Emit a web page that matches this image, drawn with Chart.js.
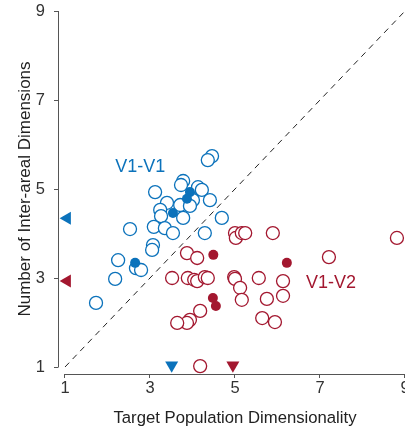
<!DOCTYPE html>
<html>
<head>
<meta charset="utf-8">
<script src="https://cdn.jsdelivr.net/npm/chart.js@4"></script>
<style>
  html, body { margin: 0; padding: 0; background: #fff; overflow: hidden; }
</style>
</head>
<body>
<canvas id="dimChart" width="405" height="429"></canvas>
<script>
// tick values
const xTicks = [1, 3, 5, 7, 9];
const yTicks = [1, 3, 5, 7, 9];

// V1-V1 open circles (target dim, inter-areal dim)
const v1v1X = [4.46, 4.36, 3.78, 3.73, 4.13, 4.22, 4.01, 4.41, 3.12, 3.40, 3.71, 3.24, 3.26, 3.78,
               4.69, 2.53, 3.09, 3.35, 3.54, 4.29, 3.07, 3.05, 2.25, 2.67, 2.79, 2.18, 1.73, 3.94];
const v1v1Y = [5.74, 5.65, 5.18, 5.09, 5.04, 4.98, 4.75, 4.75, 4.93, 4.69, 4.64, 4.53, 4.39, 4.35,
               4.35, 4.10, 4.15, 4.12, 4.01, 4.01, 3.74, 3.63, 3.40, 3.22, 3.18, 2.98, 2.44, 4.62];
// V1-V1 filled circles
const v1v1MeanX = [3.94, 3.87, 3.54, 2.65];
const v1v1MeanY = [4.93, 4.78, 4.46, 3.34];

// V1-V2 open circles
const v1v2X = [3.87, 4.11, 3.52, 3.89, 4.04, 4.11, 4.29, 4.36, 5.00, 5.02, 5.16, 5.24, 5.89, 8.81, 7.21,
               4.98, 5.00, 5.12, 5.16, 5.56, 6.13, 6.13, 5.75, 4.18, 3.94, 3.87, 3.64, 5.64, 5.94, 4.18];
const v1v2Y = [3.56, 3.45, 3.00, 3.00, 2.96, 2.93, 3.02, 3.00, 4.01, 3.90, 4.01, 4.01, 4.01, 3.90, 3.47,
               3.02, 2.98, 2.78, 2.51, 3.00, 2.93, 2.60, 2.53, 2.26, 2.06, 1.99, 1.99, 2.10, 2.01, 1.02];
// V1-V2 filled circles
const v1v2MeanX = [4.49, 6.22, 4.48, 4.55];
const v1v2MeanY = [3.52, 3.34, 2.55, 2.37];

// median markers on the axes
const v1v1MedY = 4.34, v1v2MedY = 2.93;
const v1v1MedX = 3.51, v1v2MedX = 4.95;

// group labels
const groupLabels = [
  { text: "V1-V1", x: 2.77, y: 5.49, color: "#0b72bb" },
  { text: "V1-V2", x: 7.26, y: 2.89, color: "#a3172f" }
];

const blue = "#0b72bb";
const red = "#a3172f";
const fontFam = "'Liberation Sans', Arial, sans-serif";

function pts(xs, ys) {
  return xs.map((x, i) => ({ x: x, y: ys[i] }));
}

// axes drawn detached from the plot, like the original figure
const detachedAxes = {
  id: "detachedAxes",
  afterDraw(chart) {
    const ctx = chart.ctx;
    const xs = chart.scales.x, ys = chart.scales.y;
    const axX = chart.chartArea.left - 7;
    const axY = chart.chartArea.bottom + 7;
    ctx.save();
    ctx.strokeStyle = "#555";
    ctx.lineWidth = 1;
    ctx.beginPath();
    ctx.moveTo(axX + 0.5, ys.getPixelForValue(9));
    ctx.lineTo(axX + 0.5, ys.getPixelForValue(1));
    yTicks.forEach(t => {
      const p = Math.round(ys.getPixelForValue(t)) + 0.5;
      ctx.moveTo(axX - 4, p);
      ctx.lineTo(axX + 0.5, p);
    });
    ctx.moveTo(xs.getPixelForValue(1), axY + 0.5);
    ctx.lineTo(xs.getPixelForValue(9), axY + 0.5);
    xTicks.forEach(t => {
      const p = Math.round(xs.getPixelForValue(t)) - 0.5;
      ctx.moveTo(p, axY);
      ctx.lineTo(p, axY + 4);
    });
    ctx.stroke();

    ctx.font = "18px " + fontFam;
    ctx.textAlign = "center";
    ctx.textBaseline = "middle";
    groupLabels.forEach(l => {
      ctx.fillStyle = l.color;
      ctx.fillText(l.text, xs.getPixelForValue(l.x), ys.getPixelForValue(l.y));
    });
    ctx.restore();
  }
};

const ctx = document.getElementById("dimChart").getContext("2d");

new Chart(ctx, {
  type: "scatter",
  data: {
    datasets: [
      {
        label: "diagonal",
        type: "line",
        data: [{ x: 1, y: 1 }, { x: 9, y: 9 }],
        borderColor: "#222",
        borderWidth: 1,
        borderDash: [6, 5],
        pointRadius: 0,
        order: 10
      },
      {
        label: "V1-V1",
        data: pts(v1v1X, v1v1Y),
        pointRadius: 6.5,
        borderWidth: 1.3,
        borderColor: blue,
        backgroundColor: "#fff",
        order: 5
      },
      {
        label: "V1-V2",
        data: pts(v1v2X, v1v2Y),
        pointRadius: 6.5,
        borderWidth: 1.3,
        borderColor: red,
        backgroundColor: "#fff",
        order: 5
      },
      {
        label: "V1-V1 filled",
        data: pts(v1v1MeanX, v1v1MeanY),
        pointRadius: 5,
        borderWidth: 0,
        backgroundColor: blue,
        order: 1
      },
      {
        label: "V1-V2 filled",
        data: pts(v1v2MeanX, v1v2MeanY),
        pointRadius: 5,
        borderWidth: 0,
        backgroundColor: red,
        order: 1
      },
      {
        label: "medians",
        data: [
          { x: 1.05, y: v1v1MedY },
          { x: 1.05, y: v1v2MedY },
          { x: v1v1MedX, y: 1.04 },
          { x: v1v2MedX, y: 1.04 }
        ],
        pointStyle: "triangle",
        pointRotation: [-90, -90, 180, 180],
        pointRadius: 7.5,
        borderWidth: 0,
        backgroundColor: [blue, red, blue, red],
        order: 0
      }
    ]
  },
  options: {
    responsive: false,
    animation: false,
    clip: false,
    layout: { autoPadding: false, padding: { top: 11, left: 0, right: 0, bottom: 0 } },
    plugins: {
      legend: { display: false },
      tooltip: { enabled: false }
    },
    scales: {
      x: {
        type: "linear",
        min: 1,
        max: 9,
        afterBuildTicks: s => { s.ticks = xTicks.map(v => ({ value: v })); },
        afterFit: s => { s.height = 62; s.paddingLeft = 0; s.paddingRight = 0; },
        grid: { display: false, drawTicks: false },
        border: { display: false },
        ticks: {
          padding: 12,
          color: "#333",
          font: { family: fontFam, size: 16.5 }
        },
        title: {
          display: true,
          text: "Target Population Dimensionality",
          color: "#222",
          padding: { top: 0, bottom: 1 },
          font: { family: fontFam, size: 16.7 }
        }
      },
      y: {
        type: "linear",
        min: 1,
        max: 9,
        afterBuildTicks: s => { s.ticks = yTicks.map(v => ({ value: v })); },
        afterFit: s => { s.width = 65; s.paddingTop = 0; s.paddingBottom = 0; },
        grid: { display: false, drawTicks: false },
        border: { display: false },
        ticks: {
          padding: 20,
          color: "#333",
          font: { family: fontFam, size: 16.5 }
        },
        title: {
          display: true,
          text: "Number of Inter-areal Dimensions",
          color: "#222",
          padding: { top: 15, bottom: 0 },
          font: { family: fontFam, size: 17 }
        }
      }
    }
  },
  plugins: [detachedAxes]
});
</script>
</body>
</html>
